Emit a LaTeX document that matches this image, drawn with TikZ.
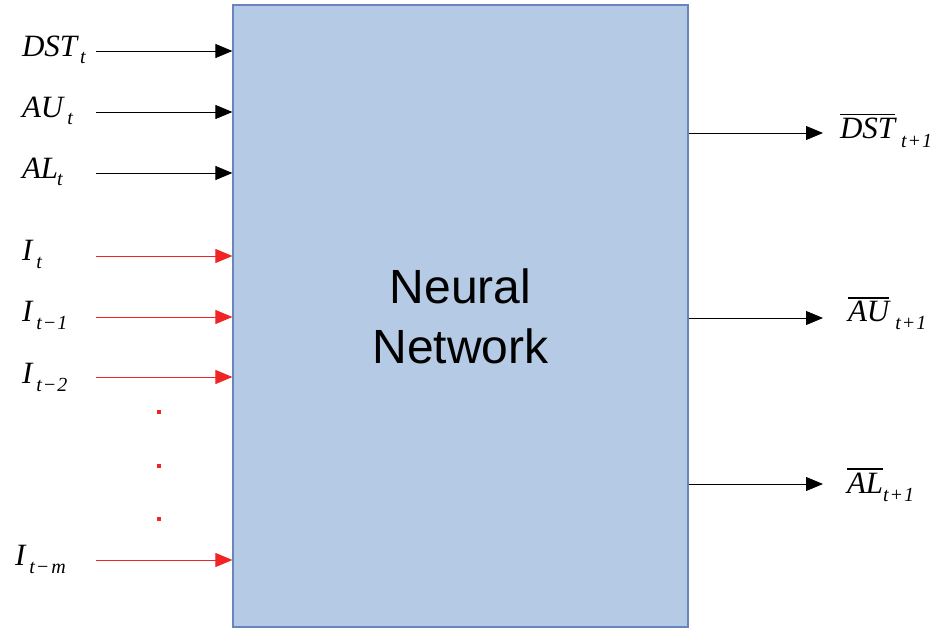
\documentclass[tikz,border=0pt]{standalone}
\usepackage{fontspec}
\setmainfont{Liberation Serif}
\newfontfamily\nnfont{Liberation Sans}
\usetikzlibrary{arrows.meta}

\definecolor{boxfill}{RGB}{181,202,228}
\definecolor{boxline}{RGB}{104,134,186}
\definecolor{inred}{RGB}{240,36,36}

% label pieces: italic main letters, lowered subscript, overlined group
\newcommand\mainsz{\fontsize{31}{31}\selectfont\itshape}
\newcommand\ssz{\fontsize{20}{20}\selectfont}
\newcommand\lowsub[2]{\raisebox{-#1}{\ssz #2}}
\newcommand\ovl[1]{\vbox{\hrule height 1.1pt\kern 3pt\hbox{#1}}}

\tikzset{
  lab/.style={anchor=base west, inner sep=0pt, outer sep=0pt},
  inarrow/.style={line width=0.9pt, -{Triangle[length=17pt,width=14pt]}},
  blackarrow/.style={inarrow, black},
  redarrow/.style={inarrow, inred},
  reddot/.style={fill=inred, draw=none, minimum size=3.6pt, inner sep=0pt, rectangle},
}

\begin{document}
\begin{tikzpicture}[x=1pt, y=-1pt]
\useasboundingbox (0,0) rectangle (940,628);

% the network block
\node[draw=boxline, fill=boxfill, line width=1.2pt, minimum width=455pt,
      minimum height=622pt, inner sep=0pt, align=center,
      font=\nnfont\fontsize{48}{60}\selectfont] (nn) at (460.5,316)
      {Neural\\Network};

% input labels
\node[lab] (lDST) at (22,57) {\mainsz DST\kern3pt\lowsub{7pt}{\itshape t}};
\node[lab] (lAU)  at (22,118) {\mainsz AU\kern4pt\lowsub{7pt}{\itshape t}};
\node[lab] (lAL)  at (22,179) {\mainsz AL\kern-1pt\lowsub{7pt}{\itshape t}};
\node[lab] (lI0)  at (22,261) {\mainsz I\kern4pt\lowsub{8pt}{\itshape t}};
\node[lab] (lI1)  at (22,322) {\mainsz I\kern4pt\lowsub{8pt}{\textit{t}\kern1pt−\kern1pt1}};
\node[lab] (lI2)  at (22,383) {\mainsz I\kern4pt\lowsub{8pt}{\textit{t}\kern1pt−\kern1pt2}};
\node[lab] (lIm)  at (15,565) {\mainsz I\kern4pt\lowsub{8pt}{\textit{t}\kern1pt−\kern2pt\textit{m}}};

% input arrow tails
\coordinate (sDST) at (96,51);
\coordinate (sAU)  at (96,112);
\coordinate (sAL)  at (96,173);
\coordinate (sI0)  at (96,256);
\coordinate (sI1)  at (96,317);
\coordinate (sI2)  at (96,377);
\coordinate (sIm)  at (96,560);

\draw[blackarrow] (sDST) -- (sDST -| nn.west);
\draw[blackarrow] (sAU)  -- (sAU -| nn.west);
\draw[blackarrow] (sAL)  -- (sAL -| nn.west);
\draw[redarrow] (sI0) -- (sI0 -| nn.west);
\draw[redarrow] (sI1) -- (sI1 -| nn.west);
\draw[redarrow] (sI2) -- (sI2 -| nn.west);
\draw[redarrow] (sIm) -- (sIm -| nn.west);

% vertical ellipsis between the image inputs
\node[reddot] (d1) at (159,412) {};
\node[reddot] (d2) at (159,466) {};
\node[reddot] (d3) at (159,519) {};

% outputs
\coordinate (eDST) at (823,133);
\coordinate (eAU)  at (823,318);
\coordinate (eAL)  at (823,484);
\draw[blackarrow] (eDST -| nn.east) -- (eDST);
\draw[blackarrow] (eAU -| nn.east)  -- (eAU);
\draw[blackarrow] (eAL -| nn.east)  -- (eAL);

\node[lab] (oDST) at (840,139) {\mainsz\ovl{DST}\kern6pt\lowsub{9pt}{\textit{t}\kern1pt+\kern1pt1}};
\node[lab] (oAU)  at (848,322) {\mainsz\ovl{AU}\kern6pt\lowsub{8pt}{\textit{t}\kern1pt+\kern1pt1}};
\node[lab] (oAL)  at (847,493) {\mainsz\ovl{AL}\kern0pt\lowsub{8pt}{\textit{t}\kern1pt+\kern1pt1}};
\end{tikzpicture}
\end{document}
